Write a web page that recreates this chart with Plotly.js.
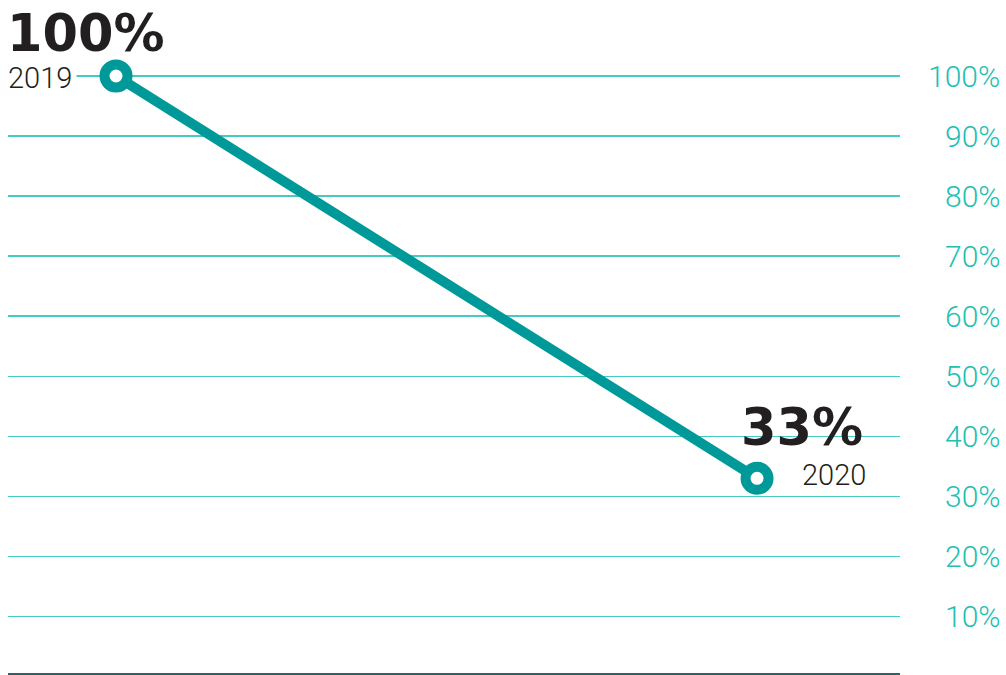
<!DOCTYPE html>
<html><head><meta charset="utf-8">
<script src="https://cdn.plot.ly/plotly-3.0.1.min.js"></script>
<style>html,body{margin:0;padding:0;background:#fff;}#chart{width:1006px;height:675px;}</style>
</head><body><div id="chart"></div>
<script>
const years = [2019, 2020];
const values = [100, 33];
const valueLabels = ['100%', '33%'];
const yearLabels = ['2019', '2020'];
const tickValues = [10, 20, 30, 40, 50, 60, 70, 80, 90, 100];
const tickLabels = ['10%', '20%', '30%', '40%', '50%', '60%', '70%', '80%', '90%', '100%'];

const TEAL = '#00999a';
const GRID = '#45cbc3';
const TICKC = '#22bfb3';
const narrow = 'Roboto, "DejaVu Sans Condensed", sans-serif';
const heavy = '"DejaVu Sans", sans-serif';

const trace = {
  x: years, y: values, type: 'scatter', mode: 'lines+markers',
  line: {color: TEAL, width: 10},
  marker: {size: 23, color: '#ffffff', line: {color: TEAL, width: 10}},
  hoverinfo: 'skip', cliponaxis: false
};

const annotations = [];
// tick labels, right aligned
tickValues.forEach((v, i) => {
  annotations.push({xref: 'paper', yref: 'y', x: 1.1143, y: v, xanchor: 'right', yanchor: 'middle',
    text: tickLabels[i], showarrow: false, font: {family: narrow, size: 30, weight: 300, color: TICKC}});
});
// value labels
annotations.push({xref: 'paper', yref: 'y', x: 0, y: values[0], xanchor: 'left', yanchor: 'bottom', yshift: 11, xshift: -3,
  text: '<b>' + valueLabels[0] + '</b>', showarrow: false, font: {family: heavy, size: 51, color: '#231f20'}});
annotations.push({xref: 'paper', yref: 'y', x: 0, y: values[0], xanchor: 'left', yanchor: 'middle', xshift: -5, yshift: -2, bgcolor: '#ffffff', borderpad: 4,
  text: yearLabels[0], showarrow: false, font: {family: narrow, size: 29, weight: 300, color: '#231f20'}});
annotations.push({xref: 'x', yref: 'y', x: years[1], y: values[1], xanchor: 'left', yanchor: 'bottom', yshift: 19, xshift: -18,
  text: '<b>' + valueLabels[1] + '</b>', showarrow: false, font: {family: heavy, size: 51, color: '#231f20'}});
annotations.push({xref: 'x', yref: 'y', x: years[1], y: values[1], xanchor: 'left', yanchor: 'middle', xshift: 43, yshift: 3,
  text: yearLabels[1], showarrow: false, font: {family: narrow, size: 29, weight: 300, color: '#231f20'}});

const layout = {
  width: 1006, height: 675,
  margin: {l: 8, r: 106, t: 0, b: 2},
  paper_bgcolor: '#ffffff', plot_bgcolor: '#ffffff',
  showlegend: false,
  xaxis: {range: [2018.8315, 2020.223], showgrid: false, zeroline: false, showticklabels: false,
    showline: true, linecolor: '#2a6468', linewidth: 2, ticks: ''},
  yaxis: {range: [0.58, 112.66], tickvals: tickValues, showticklabels: false, showgrid: true,
    gridcolor: GRID, gridwidth: 1.5, zeroline: false, showline: false, ticks: ''},
  annotations: annotations
};

Plotly.newPlot('chart', [trace], layout, {displayModeBar: false, staticPlot: true});
</script>
</body></html>
